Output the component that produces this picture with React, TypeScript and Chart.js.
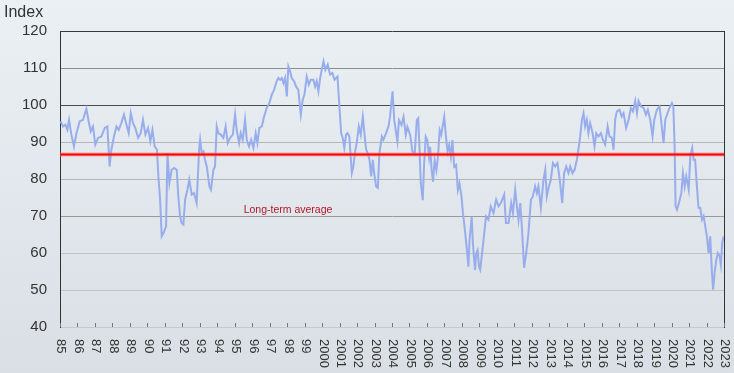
import React, { useEffect, useRef } from "react";
import { Chart, registerables } from "chart.js";

Chart.register(...registerables);

// ---------- data ----------
const tickYears: number[] = [
  1985, 1986, 1987, 1988, 1989, 1990, 1991, 1992, 1993, 1994, 1995, 1996, 1997,
  1998, 1999, 2000, 2001, 2002, 2003, 2004, 2005, 2006, 2007, 2008, 2009, 2010,
  2011, 2012, 2013, 2014, 2015, 2016, 2017, 2018, 2019, 2020, 2021, 2022, 2023,
];
const tickLabels: string[] = [
  "85", "86", "87", "88", "89", "90", "91", "92", "93", "94", "95", "96", "97",
  "98", "99", "2000", "2001", "2002", "2003", "2004", "2005", "2006", "2007",
  "2008", "2009", "2010", "2011", "2012", "2013", "2014", "2015", "2016", "2017",
  "2018", "2019", "2020", "2021", "2022", "2023",
];
const longTermAverage = 86.6;
const averageLabel = "Long-term average";
const yAxisTitle = "Index";

// [decimal year, index value]
const index1985to1990: [number, number][] = [
  [1985.04, 95.6], [1985.17, 94.2], [1985.31, 94.7], [1985.42, 93.3], [1985.52, 96],
  [1985.65, 92], [1985.8, 88.8], [1985.94, 92.4], [1986.13, 95.6], [1986.32, 96],
  [1986.51, 99], [1986.64, 95.6], [1986.76, 92.9], [1986.89, 94.2], [1987.02, 89.3],
  [1987.18, 91.1], [1987.37, 91.5], [1987.56, 93.8], [1987.71, 94.2], [1987.84, 83.4],
  [1987.94, 87.9], [1988.09, 91.5], [1988.23, 94.2], [1988.36, 93.3], [1988.51, 95.1],
  [1988.66, 97.4], [1988.8, 94.7], [1988.93, 92.4], [1989.05, 97.8], [1989.18, 95.1],
  [1989.31, 93.8], [1989.47, 91.1], [1989.62, 92.4], [1989.75, 96], [1989.89, 92],
  [1990.04, 93.8], [1990.17, 90.2], [1990.29, 93.3], [1990.42, 88.8], [1990.55, 87.9],
];
const index1990to2004: [number, number][] = [
  [1990.63, 80.7], [1990.73, 74.4], [1990.82, 64.5], [1990.92, 65.4], [1991.07, 67.2],
  [1991.15, 87], [1991.26, 78.9], [1991.39, 82.5], [1991.53, 83], [1991.68, 82.5],
  [1991.77, 75.3], [1991.87, 70], [1991.96, 68.1], [1992.06, 67.7], [1992.16, 74.4],
  [1992.29, 77.1], [1992.4, 79.8], [1992.54, 75.8], [1992.67, 76.2], [1992.82, 73.5],
  [1992.96, 87.9], [1993.02, 90.6], [1993.11, 87], [1993.21, 87.5], [1993.3, 85.2],
  [1993.4, 83.4], [1993.55, 78], [1993.64, 77.1], [1993.78, 82.5], [1993.87, 83.4],
  [1993.97, 94.2], [1994.06, 92.4], [1994.2, 92], [1994.35, 91.1], [1994.48, 94.2],
  [1994.6, 89.7], [1994.73, 91.1], [1994.89, 92], [1995.02, 97.4], [1995.11, 93.3],
  [1995.25, 89.7], [1995.34, 92.4], [1995.46, 90.6], [1995.59, 96], [1995.69, 90.6],
  [1995.82, 88.8], [1995.94, 90.6], [1996.07, 88.4], [1996.2, 92.4], [1996.3, 89.7],
  [1996.41, 93.8], [1996.55, 94.2], [1996.68, 96.9], [1996.83, 99.2], [1996.98, 100.5],
  [1997.12, 102.8], [1997.25, 104.1], [1997.4, 106.4], [1997.5, 107.3], [1997.6, 106.8],
  [1997.69, 107.3], [1997.79, 105.9], [1997.88, 107.3], [1997.98, 102.3], [1998.07, 110.4],
  [1998.17, 109.1], [1998.26, 107.3], [1998.4, 106.4], [1998.51, 105], [1998.64, 104.1],
  [1998.78, 97.4], [1998.89, 101.4], [1998.99, 102.8], [1999.12, 107.7], [1999.24, 105.5],
  [1999.35, 106.8], [1999.5, 106.8], [1999.6, 105], [1999.69, 106.4], [1999.79, 103.7],
  [1999.89, 107.3], [1999.98, 109.5], [2000.08, 111.8], [2000.19, 109.5], [2000.32, 110.9],
  [2000.46, 108.2], [2000.59, 108.6], [2000.71, 106.8], [2000.8, 107.3], [2000.88, 107.7],
  [2000.99, 99.6], [2001.09, 92.4], [2001.18, 91.1], [2001.27, 88.4], [2001.37, 92],
  [2001.46, 92.4], [2001.56, 91.5], [2001.7, 81.6], [2001.79, 83.4], [2001.89, 87.5],
  [2001.98, 89.7], [2002.1, 94.2], [2002.21, 92], [2002.33, 96.9], [2002.42, 92.4],
  [2002.52, 87.9], [2002.61, 87], [2002.71, 85.2], [2002.81, 80.7], [2002.9, 85.2],
  [2002.98, 81.6], [2003.09, 78], [2003.19, 77.6], [2003.28, 87], [2003.42, 91.5],
  [2003.51, 90.6], [2003.66, 92.4], [2003.8, 94.2], [2003.89, 96.9], [2004.03, 103.7],
];
const index2004to2009: [number, number][] = [
  [2004.13, 95.9], [2004.31, 90.1], [2004.4, 95.9], [2004.54, 94.6], [2004.66, 96.8],
  [2004.79, 91.9], [2004.88, 94.1], [2005.04, 91.9], [2005.17, 87.4], [2005.3, 86.9],
  [2005.42, 95.9], [2005.5, 96.4], [2005.57, 88.7], [2005.65, 78.8], [2005.76, 74.3],
  [2005.84, 84.2], [2005.93, 91.4], [2006.02, 90.5], [2006.12, 86], [2006.18, 88.7],
  [2006.27, 82.4], [2006.35, 79.3], [2006.44, 85.1], [2006.54, 82.4], [2006.63, 86],
  [2006.73, 93.2], [2006.82, 91.9], [2006.88, 93.7], [2006.99, 96.8], [2007.09, 91.4],
  [2007.18, 87.4], [2007.27, 89.2], [2007.37, 86], [2007.46, 90.5], [2007.56, 83.3],
  [2007.67, 83.8], [2007.77, 77], [2007.86, 78.8], [2007.98, 75.2], [2008.06, 70.7],
  [2008.13, 68], [2008.21, 64.4], [2008.29, 60.8], [2008.37, 56.3], [2008.44, 63.5],
  [2008.56, 69.8], [2008.63, 62.6], [2008.75, 55.4], [2008.82, 59.9], [2008.9, 60.8],
  [2008.98, 56.3],
];
const index2009to2023: [number, number][] = [
  [2009.05, 55.5], [2009.24, 63.6], [2009.38, 69.9], [2009.52, 69], [2009.65, 72.6],
  [2009.81, 70.8], [2009.96, 74.4], [2010.1, 72.6], [2010.23, 73.5], [2010.42, 75.8],
  [2010.52, 68.1], [2010.67, 68.1], [2010.82, 73.5], [2010.92, 70.8], [2011.05, 77.1],
  [2011.15, 72.6], [2011.24, 69], [2011.34, 73.5], [2011.43, 67.2], [2011.56, 56],
  [2011.68, 60], [2011.81, 65.4], [2011.95, 74.4], [2012.06, 75.3], [2012.19, 78],
  [2012.29, 76.2], [2012.38, 78], [2012.52, 72.2], [2012.67, 79.8], [2012.77, 82.5],
  [2012.86, 75.3], [2012.98, 78], [2013.09, 79.8], [2013.21, 84.3], [2013.34, 83.4],
  [2013.47, 84.3], [2013.6, 79.8], [2013.74, 73.5], [2013.85, 81.6], [2013.97, 83.4],
  [2014.1, 81.6], [2014.2, 83.4], [2014.33, 81.6], [2014.45, 82.5], [2014.58, 85.2],
  [2014.68, 88.4], [2014.77, 91.5], [2014.87, 96], [2014.96, 97.8], [2015.05, 94.2],
  [2015.15, 96], [2015.24, 92.4], [2015.34, 95.1], [2015.48, 92.4], [2015.59, 88.8],
  [2015.69, 92.4], [2015.82, 91.5], [2015.96, 92.4], [2016.07, 90.6], [2016.2, 89.3],
  [2016.34, 94.2], [2016.45, 91.5], [2016.58, 91.1], [2016.68, 87.9], [2016.77, 96],
  [2016.87, 98.3], [2017.02, 98.7], [2017.14, 96.9], [2017.25, 97.8], [2017.4, 93.8],
  [2017.54, 96], [2017.67, 99.2], [2017.79, 98.3], [2017.92, 101.1], [2018.02, 97.8],
  [2018.11, 101.1], [2018.25, 99.6], [2018.4, 99.2], [2018.53, 97.4], [2018.64, 98.7],
  [2018.78, 96], [2018.91, 91.5], [2019.01, 96], [2019.16, 98.7], [2019.31, 99.6],
  [2019.4, 96], [2019.54, 89.7], [2019.64, 96], [2019.77, 97.8], [2019.88, 99.2],
  [2020.02, 100.5], [2020.1, 99.6], [2020.17, 89.7], [2020.23, 72.6], [2020.31, 71.7],
  [2020.42, 73.5], [2020.56, 76.2], [2020.65, 81.6], [2020.75, 78], [2020.84, 80.7],
  [2020.98, 77.1], [2021.07, 86.1], [2021.18, 88.4], [2021.26, 85.2], [2021.35, 85.2],
  [2021.45, 78], [2021.54, 72.2], [2021.64, 72.2], [2021.74, 69], [2021.83, 69.9],
  [2021.93, 67.2], [2022.02, 64.5], [2022.12, 60], [2022.21, 64.5], [2022.31, 54.6],
  [2022.38, 50.1], [2022.46, 54.6], [2022.56, 58.2], [2022.65, 60], [2022.75, 59.1],
  [2022.82, 56.8], [2022.9, 62.7], [2022.98, 64.5],
];

// ---------- styles ----------
const FONT = '"Liberation Sans", Arial, Helvetica, sans-serif';
const TEXT = "#333333";
const gridColors: Record<number, string> = {
  120: "#3a3a3a", 110: "#8e8e8e", 100: "#4c4c4c", 90: "#b6b6b6", 80: "#b6b6b6",
  70: "#9a9a9a", 60: "#c3c3c3", 50: "#c3c3c3", 40: "#c8c8c8",
};

const decorations = {
  id: "decorations",
  beforeDraw(chart: any) {
    const { ctx, width, height } = chart;
    const g = ctx.createLinearGradient(0, 0, 0, height);
    g.addColorStop(0, "#eaf0f4");
    g.addColorStop(1, "#d9dfe4");
    ctx.save();
    ctx.fillStyle = g;
    ctx.fillRect(0, 0, width, height);
    ctx.restore();
  },
  afterDraw(chart: any) {
    const { ctx, chartArea } = chart;
    const xs = chart.scales.x;
    const ys = chart.scales.y;
    ctx.save();
    // right border
    ctx.strokeStyle = "#333";
    ctx.lineWidth = 1;
    ctx.beginPath();
    ctx.moveTo(Math.round(chartArea.right) + 0.5, chartArea.top);
    ctx.lineTo(Math.round(chartArea.right) + 0.5, chartArea.bottom + 1);
    ctx.stroke();
    // x tick marks (inside)
    ctx.strokeStyle = "#777";
    tickYears.forEach((yr) => {
      const px = Math.round(xs.getPixelForValue(yr)) + 0.5;
      ctx.beginPath();
      ctx.moveTo(px, chartArea.bottom - 4);
      ctx.lineTo(px, chartArea.bottom);
      ctx.stroke();
    });
    // x labels rotated clockwise
    ctx.fillStyle = TEXT;
    ctx.font = `13px ${FONT}`;
    ctx.textAlign = "left";
    ctx.textBaseline = "middle";
    tickYears.forEach((yr, i) => {
      const px = xs.getPixelForValue(yr);
      ctx.save();
      ctx.translate(px + 1, chartArea.bottom + 12);
      ctx.rotate(Math.PI / 2);
      ctx.fillText(tickLabels[i], 0, 0);
      ctx.restore();
    });
    // axis title
    ctx.font = `16px ${FONT}`;
    ctx.textBaseline = "alphabetic";
    ctx.fillText(yAxisTitle, 4, 17);
    // average label
    ctx.fillStyle = "#b3162a";
    ctx.font = `10.5px ${FONT}`;
    ctx.textAlign = "center";
    ctx.textBaseline = "middle";
    ctx.fillText(averageLabel, xs.getPixelForValue(1998.05), ys.getPixelForValue(71.7));
    ctx.restore();
  },
};

export default function App() {
  const ref = useRef<HTMLCanvasElement>(null);
  useEffect(() => {
    const series = [...index1985to1990, ...index1990to2004, ...index2004to2009, ...index2009to2023];
    const avgLine = [
      { x: tickYears[0], y: longTermAverage },
      { x: tickYears[tickYears.length - 1], y: longTermAverage },
    ];
    const chart = new Chart(ref.current as HTMLCanvasElement, {
      type: "line",
      data: {
        datasets: [
          {
            data: avgLine,
            borderColor: "#ff0000",
            borderWidth: 2,
            pointRadius: 0,
          },
          {
            data: avgLine,
            borderColor: "rgba(255,110,110,0.55)",
            borderWidth: 4,
            pointRadius: 0,
          },
          {
            data: series.map(([x, y]) => ({ x, y })),
            borderColor: "rgb(152,173,236)",
            borderWidth: 2,
            pointRadius: 0,
            tension: 0,
          },
        ],
      },
      options: {
        animation: false,
        responsive: false,
        devicePixelRatio: 1,
        layout: { padding: { top: 31, right: 10, left: 0, bottom: 0 } },
        plugins: { legend: { display: false }, tooltip: { enabled: false } },
        scales: {
          x: {
            type: "linear",
            min: tickYears[0],
            max: tickYears[tickYears.length - 1],
            grid: { display: false },
            border: { display: true, color: "#c8c8c8" },
            ticks: { display: false },
            afterBuildTicks: (scale: any) => {
              scale.ticks = tickYears.map((value) => ({ value }));
            },
            afterFit: (scale: any) => {
              scale.height = 46;
            },
          },
          y: {
            min: 40,
            max: 120,
            ticks: {
              stepSize: 10,
              color: TEXT,
              padding: 13,
              font: { family: FONT, size: 15 },
            },
            grid: {
              drawTicks: false,
              color: (c: any) => gridColors[c.tick?.value] || "#bbb",
            },
            border: { display: true, color: "#333" },
            afterFit: (scale: any) => {
              scale.width = 60;
            },
          },
        },
      },
      plugins: [decorations],
    } as any);
    return () => chart.destroy();
  }, []);
  return (
    <div style={{ position: "fixed", left: 0, top: 0, width: 734, height: 373 }}>
      <canvas ref={ref} width={734} height={373} style={{ display: "block", width: 734, height: 373 }} />
    </div>
  );
}
